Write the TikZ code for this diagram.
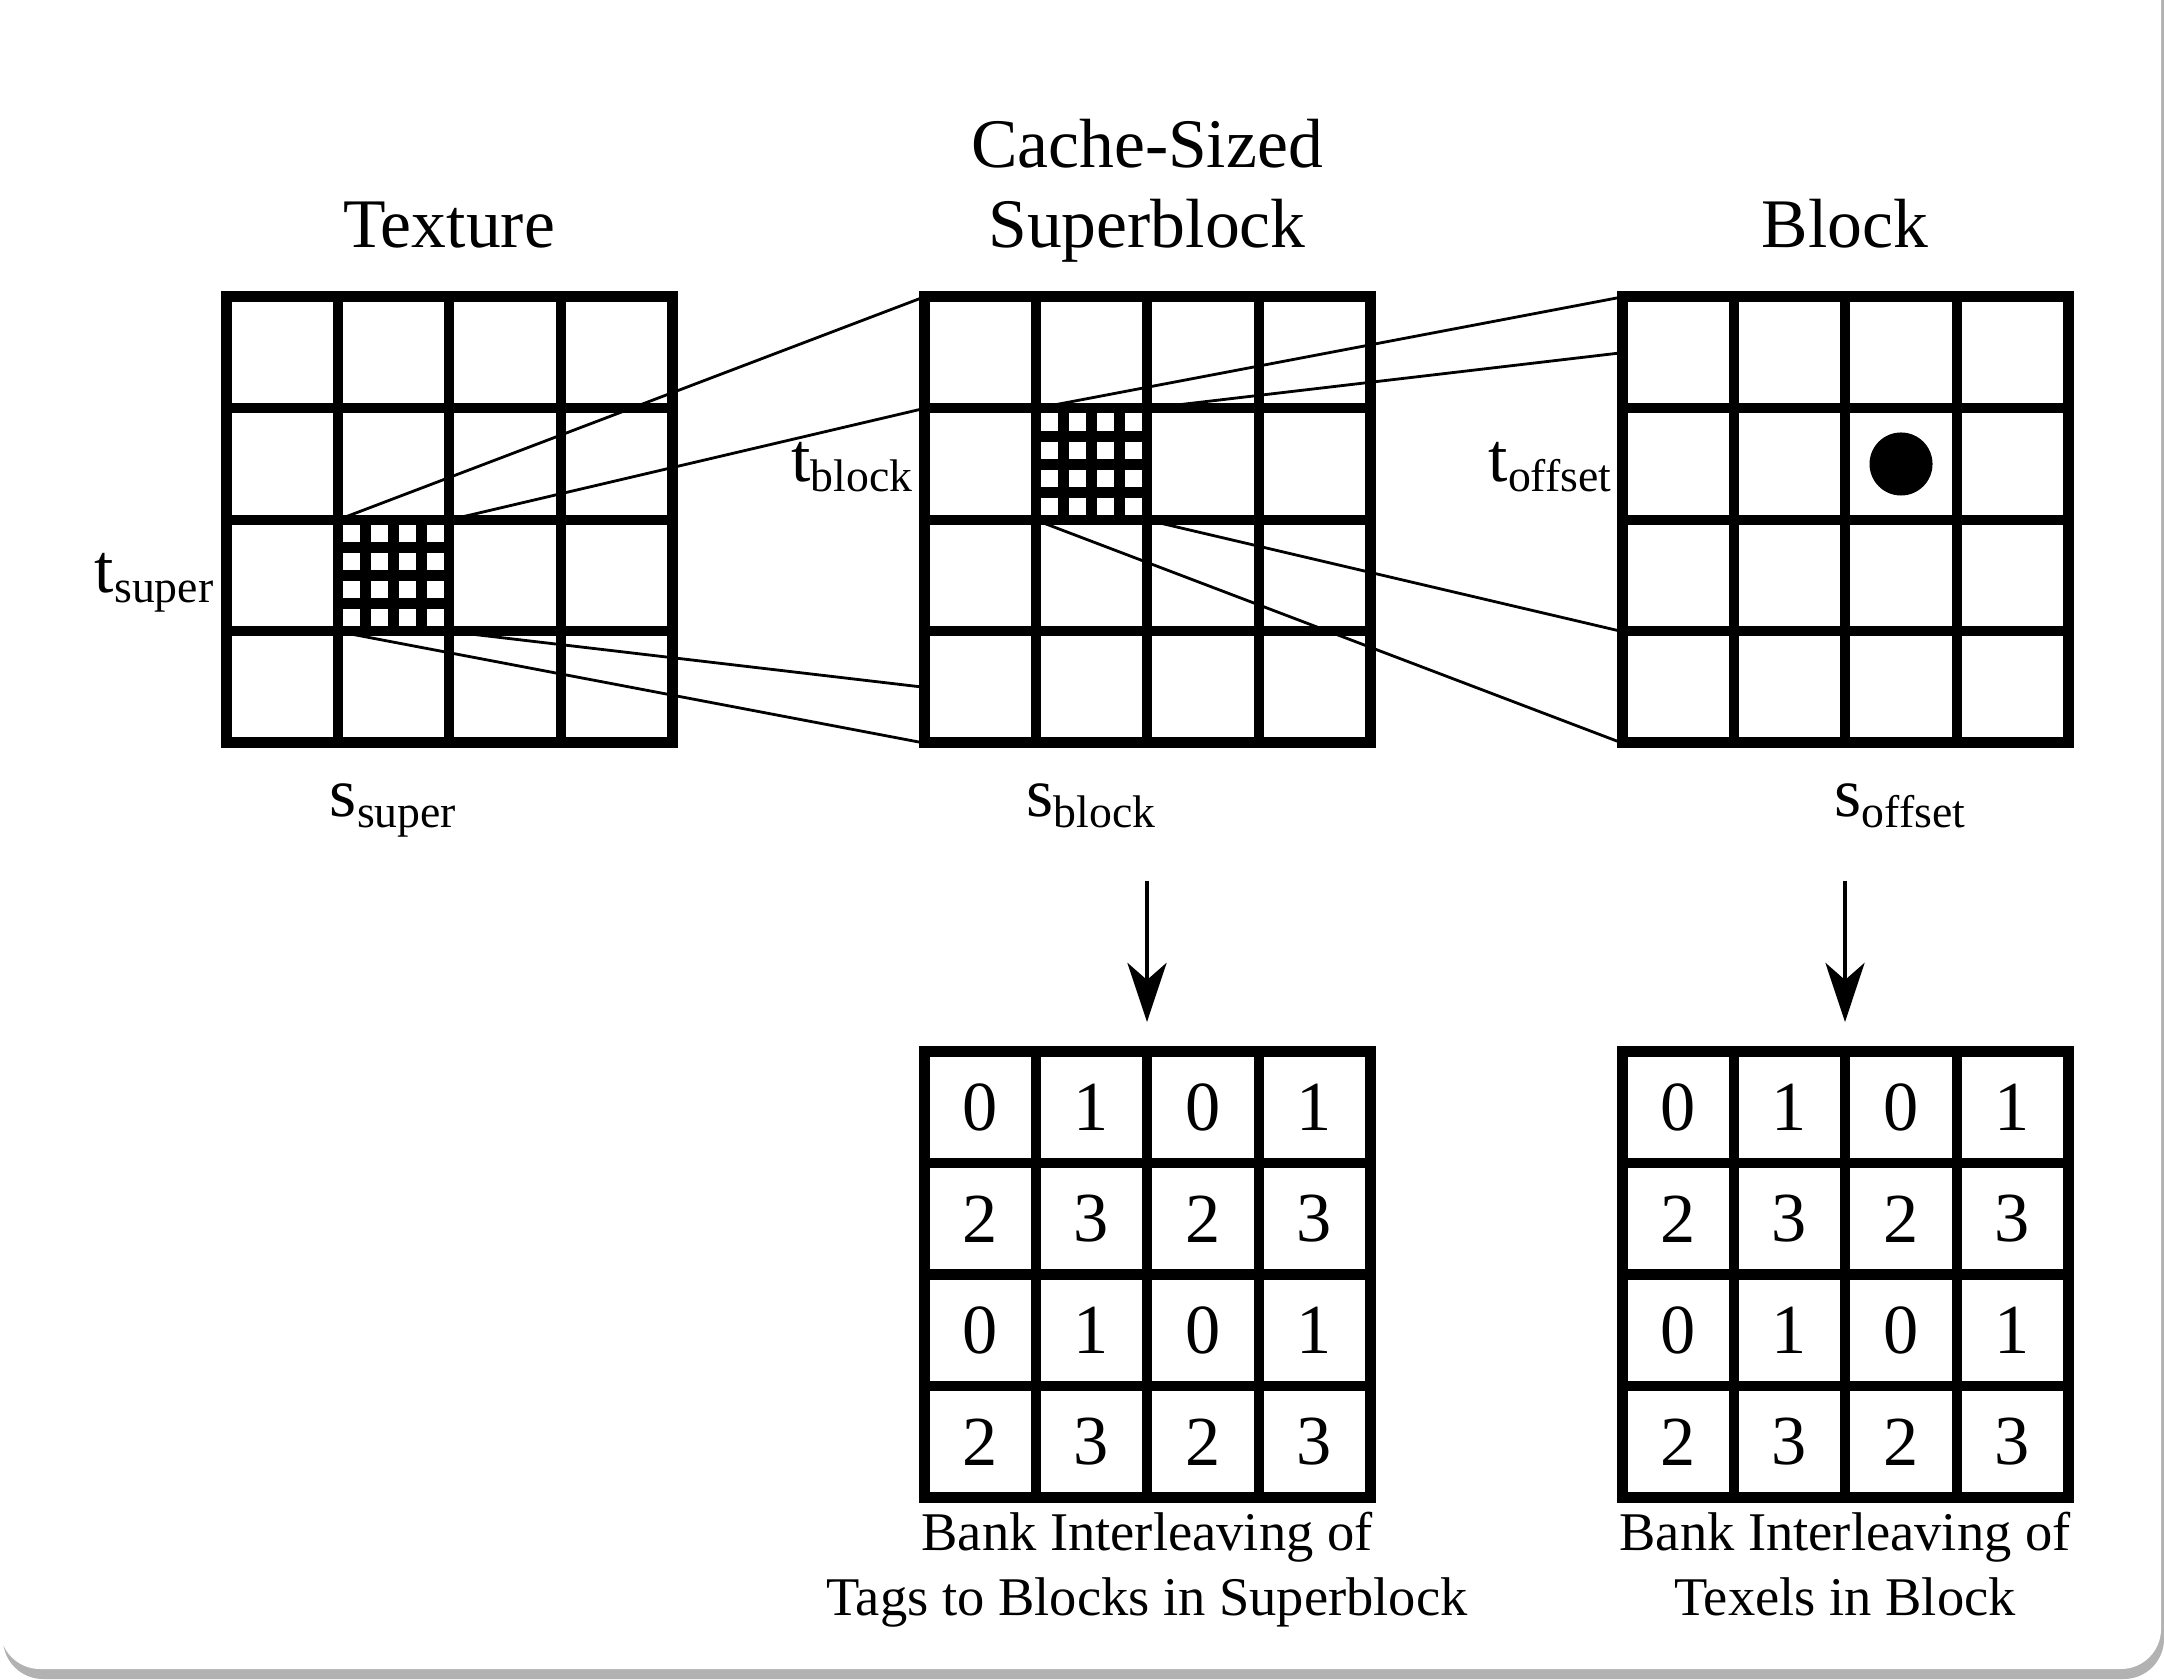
\documentclass[tikz,border=0pt]{standalone}
\usepackage{fontspec}
\setmainfont{Liberation Serif}
\usetikzlibrary{arrows.meta}
\def\gpitch{111.5}
\newcommand\mysub[1]{\raisebox{-0.1cm}{\fontsize{13}{15}\selectfont #1}}
\newcommand\gridAt[2]{%
  \foreach \k in {1,2,3} {
    \draw[gridline] ({#1+\k*\gpitch},#2) -- ({#1+\k*\gpitch},{#2+4*\gpitch});
    \draw[gridline] (#1,{#2+\k*\gpitch}) -- ({#1+4*\gpitch},{#2+\k*\gpitch});
  }
  \draw[outerline] (#1,#2) rectangle ({#1+4*\gpitch},{#2+4*\gpitch});
}
\newcommand\subgridAt[2]{%
  \foreach \k in {1,2,3} {
    \draw[subline] ({#1+\k*\gpitch/4},#2) -- ({#1+\k*\gpitch/4},{#2+\gpitch});
    \draw[subline] (#1,{#2+\k*\gpitch/4}) -- ({#1+\gpitch},{#2+\k*\gpitch/4});
  }
}
\begin{document}
\begin{tikzpicture}[x=0.01cm,y=-0.01cm,
  gridline/.style={line width=0.1cm},
  outerline/.style={line width=0.11cm},
  subline/.style={line width=0.11cm},
  conn/.style={line width=0.8pt},
  downarrow/.style={line width=1.4pt,-{Stealth[length=0.59cm,width=0.39cm,inset=0.17cm]}},
  titletext/.style={font=\fontsize{19.8}{23}\selectfont, inner sep=0pt},
  labtext/.style={font=\fontsize{19.8}{23}\selectfont, inner sep=0pt},
  numtext/.style={font=\fontsize{20}{24}\selectfont, inner sep=0pt},
  captext/.style={font=\fontsize{15.5}{18.5}\selectfont, inner sep=0pt},
]
\useasboundingbox (0,0) rectangle (2164,1680);
% card with shadow
\fill[black!30, rounded corners=0.4cm] (3,-100) rectangle (2164,1679);
\fill[white, rounded corners=0.4cm] (0,-100) rectangle (2161,1669);

% connector end points
\coordinate (tsTL) at (337.5,520);
\coordinate (tsTR) at (449,520);
\coordinate (tsBL) at (337.5,631.5);
\coordinate (tsBR) at (449,631.5);
\coordinate (sbTL) at (924,297);
\coordinate (sbR1) at (924,408.5);
\coordinate (sbBL) at (924,743);
\coordinate (sbMid) at (924,687.25);
\coordinate (ssTL) at (1035.5,408.5);
\coordinate (ssTR) at (1147,408.5);
\coordinate (ssBL) at (1035.5,520);
\coordinate (ssBR) at (1147,520);
\coordinate (bkTL) at (1622,297);
\coordinate (bkMid) at (1622,352.75);
\coordinate (bkBL) at (1622,743);
\coordinate (bkR3) at (1622,631.5);

\draw[conn] (tsTL) -- (sbTL);
\draw[conn] (tsTR) -- (sbR1);
\draw[conn] (tsBL) -- (sbBL);
\draw[conn] (tsBR) -- (sbMid);
\draw[conn] (ssTL) -- (bkTL);
\draw[conn] (ssTR) -- (bkMid);
\draw[conn] (ssBL) -- (bkBL);
\draw[conn] (ssBR) -- (bkR3);

% grids
\gridAt{226}{297}
\gridAt{924}{297}
\gridAt{1622}{297}
\subgridAt{337.5}{520}
\subgridAt{1035.5}{408.5}
\gridAt{924}{1051.5}
\gridAt{1622}{1051.5}

\node[circle, fill=black, minimum size=0.63cm, inner sep=0pt] (dot) at (1901,464) {};

% titles
\node[titletext, anchor=base] (ttex) at (449,248) {Texture};
\node[titletext, anchor=base] (tcache) at (1147,168) {Cache-Sized};
\node[titletext, anchor=base] (tsup) at (1147,248) {Superblock};
\node[titletext, anchor=base] (tblk) at (1845,248) {Block};

% labels
\node[labtext, anchor=base east] (lts) at (214,593) {t\mysub{super}};
\node[labtext, anchor=base east] (ltb) at (913,482) {t\mysub{block}};
\node[labtext, anchor=base east] (lto) at (1612,482) {t\mysub{offset}};
\node[labtext, anchor=base] (lss) at (393,817) {s\mysub{super}};
\node[labtext, anchor=base] (lsb) at (1091,817) {s\mysub{block}};
\node[labtext, anchor=base] (lso) at (1900,817) {s\mysub{offset}};

% arrows
\coordinate (a1s) at (1147,881);
\coordinate (a1e) at (1147,1022);
\coordinate (a2s) at (1845,881);
\coordinate (a2e) at (1845,1022);
\draw[downarrow] (a1s) -- (a1e);
\draw[downarrow] (a2s) -- (a2e);

% numbers
\foreach \gx/\gn in {924/a,1622/b} {
  \foreach \r in {0,1,2,3} {
    \foreach \c in {0,1,2,3} {
      \pgfmathtruncatemacro\v{2*mod(\r,2)+mod(\c,2)}
      \node[numtext] (n\gn-\r-\c) at ({\gx+(\c+0.5)*\gpitch},{1051.5+(\r+0.5)*\gpitch}) {\v};
    }
  }
}

% captions
\node[captext, anchor=base] (c1a) at (1147,1550) {Bank Interleaving of};
\node[captext, anchor=base] (c1b) at (1147,1615) {Tags to Blocks in Superblock};
\node[captext, anchor=base] (c2a) at (1845,1550) {Bank Interleaving of};
\node[captext, anchor=base] (c2b) at (1845,1615) {Texels in Block};
\end{tikzpicture}
\end{document}
